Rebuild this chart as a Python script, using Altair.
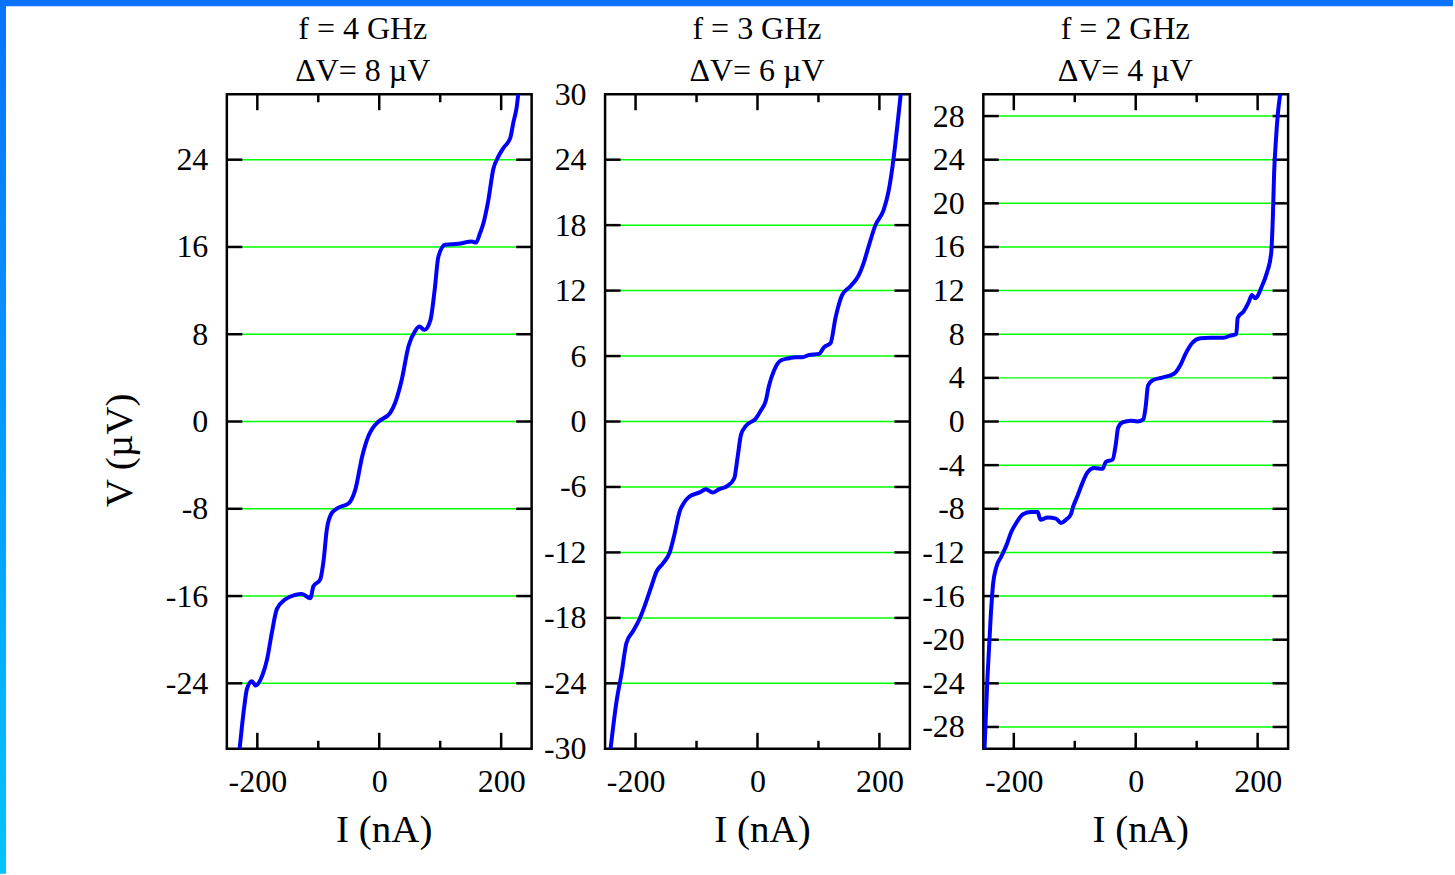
import altair as alt
import pandas as pd

FONT = "Liberation Serif"

# ---- data ----
I1 = [-229, -222, -217, -209, -203, -192, -184, -176, -168, -154, -138, -127, -113, -108, -97, -91,
      -86, -78, -67, -50, -45, -39, -28, -17.5, -12, -1, 18, 26, 37, 48, 59, 66, 74, 84, 91, 97,
      108, 130, 152, 158.5, 165.6, 171, 179, 187, 195.6, 204, 215, 220, 225.7, 228]
V1 = [-30, -26.4, -24.5, -23.8, -24.2, -23.3, -21.8, -19.3, -17.2, -16.3, -15.9, -15.8, -16.2, -15.1,
      -14.5, -12.6, -9.9, -8.4, -7.9, -7.5, -7.1, -6.2, -3.2, -1.3, -0.7, 0.0, 0.8, 1.7, 3.85, 6.9,
      8.3, 8.7, 8.4, 9.3, 12.1, 15.1, 16.2, 16.3, 16.5, 16.4, 17.3, 18.2, 20.3, 23.1, 24.3, 25.1,
      26.0, 27.4, 28.9, 30]

I2 = [-241, -231.6, -223, -215, -204, -193.5, -185, -174, -166, -155, -144, -136, -128, -120, -112,
      -95, -84.5, -73.6, -62.7, -49, -38, -32.7, -27, -19, -2.7, 5.4, 13.6, 19, 27, 38, 52, 62.7,
      73.6, 84.5, 101, 109, 120, 128, 139, 152.6, 166, 174, 182.6, 193.5, 207, 215, 223, 229, 235]
V2 = [-30, -25.8, -23.1, -20.3, -19.2, -18.1, -16.9, -15.1, -13.8, -13.0, -12.0, -10.3, -8.3, -7.4,
      -6.9, -6.5, -6.2, -6.5, -6.2, -5.9, -5.2, -3.3, -1.2, -0.4, 0.27, 1.0, 1.9, 3.3, 4.65, 5.6, 5.8,
      5.9, 5.9, 6.1, 6.2, 6.8, 7.2, 9.5, 11.6, 12.4, 13.4, 14.5, 16.1, 18.0, 19.4, 21.1, 24.0, 26.9, 30]

I3 = [-248, -243.6, -238, -234, -229, -220.7, -212.5, -204, -196, -185, -171.7, -160.8, -156.4,
      -144.4, -130.8, -122.6, -114.4, -106.3, -103.5, -95.4, -87.2, -79, -68, -54.5, -49, -38, -32.7,
      -28.9, -21.8, -8.2, 2.7, 12.5, 16.3, 20.2, 27.2, 43.6, 62.7, 73.6, 81.7, 92.6, 106.3, 122.6,
      144.4, 155.3, 165, 167.3, 177, 185, 190.7, 196, 207, 215, 222, 225, 227, 230, 233, 237]
V3 = [-30, -23.9, -18.0, -14.9, -13.4, -12.4, -11.4, -10.1, -9.3, -8.5, -8.3, -8.3, -9.0, -8.8, -8.9,
      -9.3, -9.0, -8.5, -7.95, -6.8, -5.6, -4.65, -4.27, -4.34, -3.7, -3.5, -2.1, -0.58, -0.08, 0.08,
      0.0, 0.2, 1.36, 3.3, 3.76, 4.03, 4.38, 5.2, 6.2, 7.2, 7.64, 7.68, 7.68, 7.87, 8.03, 9.5, 10.1,
      10.9, 11.6, 11.3, 12.4, 13.6, 15.3, 18.8, 22.7, 25.8, 28.1, 30]

YLABELS = [
    [-24, -16, -8, 0, 8, 16, 24],
    [-30, -24, -18, -12, -6, 0, 6, 12, 18, 24, 30],
    [-28, -24, -20, -16, -12, -8, -4, 0, 4, 8, 12, 16, 20, 24, 28],
]
YGRID = [
    [-24, -16, -8, 0, 8, 16, 24],
    [-24, -18, -12, -6, 0, 6, 12, 18, 24],
    [-28, -24, -20, -16, -12, -8, -4, 0, 4, 8, 12, 16, 20, 24, 28],
]
XT_MAJOR = [-200, 0, 200]
XT_MINOR = [-100, 100]
TITLE_F = ["f = 4 GHz", "f = 3 GHz", "f = 2 GHz"]
TITLE_DV = ["ΔV= 8 µV", "ΔV= 6 µV", "ΔV= 4 µV"]
X_TITLE = "I (nA)"
Y_TITLE = "V (µV)"

W, H = 305, 655
LABEL_EXPR = "(datum.value < 0 ? '-' : '') + abs(datum.value)"
BLUE_TOP = "#0a72ff"


def panel(I, V, ylabels, ygrid, ftitle, dvtitle, tx, idx):
    xs = alt.Scale(domain=[-250, 250], nice=False, zero=False)
    ys = alt.Scale(domain=[-30, 30], nice=False, zero=False)
    xaxis = alt.Axis(values=XT_MAJOR, ticks=False, domain=False, grid=False, labelPadding=18,
                     labelExpr=LABEL_EXPR, labelOverlap=False, title=X_TITLE, titleX=157,
                     titleY=62, titleBaseline="top", titleAlign="center")
    if idx == 0:
        yaxis = alt.Axis(values=ylabels, ticks=False, domain=False, grid=False, labelPadding=19,
                         labelExpr=LABEL_EXPR, labelOverlap=False, title=Y_TITLE, titleX=-87,
                         titleY=356, titleAngle=270, titleBaseline="bottom", titleAlign="center")
    else:
        yaxis = alt.Axis(values=ylabels, ticks=False, domain=False, grid=False, labelPadding=19,
                         labelExpr=LABEL_EXPR, labelOverlap=False, title=None)

    X = alt.X("i:Q", scale=xs, axis=xaxis)
    Y = alt.Y("v:Q", scale=ys, axis=yaxis)

    dummy = pd.DataFrame({"k": [0]})
    yt = pd.DataFrame({"v": ygrid})
    xmaj = pd.DataFrame({"i": XT_MAJOR})
    xmin = pd.DataFrame({"i": XT_MINOR})
    line_df = pd.DataFrame({"i": I, "v": V, "k": list(range(len(I)))})

    layers = []
    # decorative slide frame strips (layout uses flush bounds, so they do not shift panels)
    if idx == 0:
        layers.append(alt.Chart(dummy).mark_rect(color=BLUE_TOP).encode(
            x=alt.value(-228), x2=alt.value(1227), y=alt.value(-95), y2=alt.value(-88)))
        grad = alt.LinearGradient(gradient="linear",
                                  stops=[alt.GradientStop(color="#0a72ff", offset=0),
                                         alt.GradientStop(color="#00c4ff", offset=1)],
                                  x1=0, x2=0, y1=0, y2=1)
        layers.append(alt.Chart(dummy).mark_rect(color=grad).encode(
            x=alt.value(-228), x2=alt.value(-221), y=alt.value(-95), y2=alt.value(780)))

    # green reference lines
    layers.append(alt.Chart(yt).mark_rule(color="#00ff00", strokeWidth=1.5).encode(
        y=Y, x=alt.value(15), x2=alt.value(290)))
    # inside ticks on y (left and right)
    layers.append(alt.Chart(yt).mark_rule(color="black", strokeWidth=2.5).encode(
        y=Y, x=alt.value(0), x2=alt.value(15.5)))
    layers.append(alt.Chart(yt).mark_rule(color="black", strokeWidth=2.5).encode(
        y=Y, x=alt.value(289.5), x2=alt.value(305)))
    # inside ticks on x (bottom and top)
    layers.append(alt.Chart(xmaj).mark_rule(color="black", strokeWidth=2.5).encode(
        x=X, y=alt.value(H - 16), y2=alt.value(H)))
    layers.append(alt.Chart(xmaj).mark_rule(color="black", strokeWidth=2.5).encode(
        x=X, y=alt.value(0), y2=alt.value(16)))
    layers.append(alt.Chart(xmin).mark_rule(color="black", strokeWidth=2.5).encode(
        x=X, y=alt.value(H - 8), y2=alt.value(H)))
    layers.append(alt.Chart(xmin).mark_rule(color="black", strokeWidth=2.5).encode(
        x=X, y=alt.value(0), y2=alt.value(8)))
    # measured curve
    layers.append(alt.Chart(line_df).mark_line(color="#0000ff", strokeWidth=4, clip=True,
                                               interpolate="monotone",
                                               strokeJoin="round", strokeCap="round").encode(
        x=X, y=Y, order=alt.Order("k:Q")))
    # two-line title
    layers.append(alt.Chart(dummy).mark_text(font=FONT, fontSize=32, color="black",
                                             align="center", baseline="alphabetic").encode(
        x=alt.value(tx), y=alt.value(-55), text=alt.value(ftitle)))
    layers.append(alt.Chart(dummy).mark_text(font=FONT, fontSize=32, color="black",
                                             align="center", baseline="alphabetic").encode(
        x=alt.value(tx), y=alt.value(-13), text=alt.value(dvtitle)))

    return alt.layer(*layers).properties(width=W, height=H)


TX = [136, 152, 142]
p1 = panel(I1, V1, YLABELS[0], YGRID[0], TITLE_F[0], TITLE_DV[0], TX[0], 0)
p2 = panel(I2, V2, YLABELS[1], YGRID[1], TITLE_F[1], TITLE_DV[1], TX[1], 1)
p3 = panel(I3, V3, YLABELS[2], YGRID[2], TITLE_F[2], TITLE_DV[2], TX[2], 2)

chart = alt.hconcat(p1, p2, p3, spacing=73.5, bounds="flush").properties(
    padding={"left": -3, "top": -3, "right": 0, "bottom": 0}, background="white"
).configure_view(
    stroke="black", strokeWidth=2.5
).configure_axis(
    labelFont=FONT, labelFontSize=32, labelColor="black",
    titleFont=FONT, titleFontSize=39, titleColor="black", titleFontWeight="normal"
)

chart.save("out.html", embed_options={"renderer": "svg", "actions": False})
